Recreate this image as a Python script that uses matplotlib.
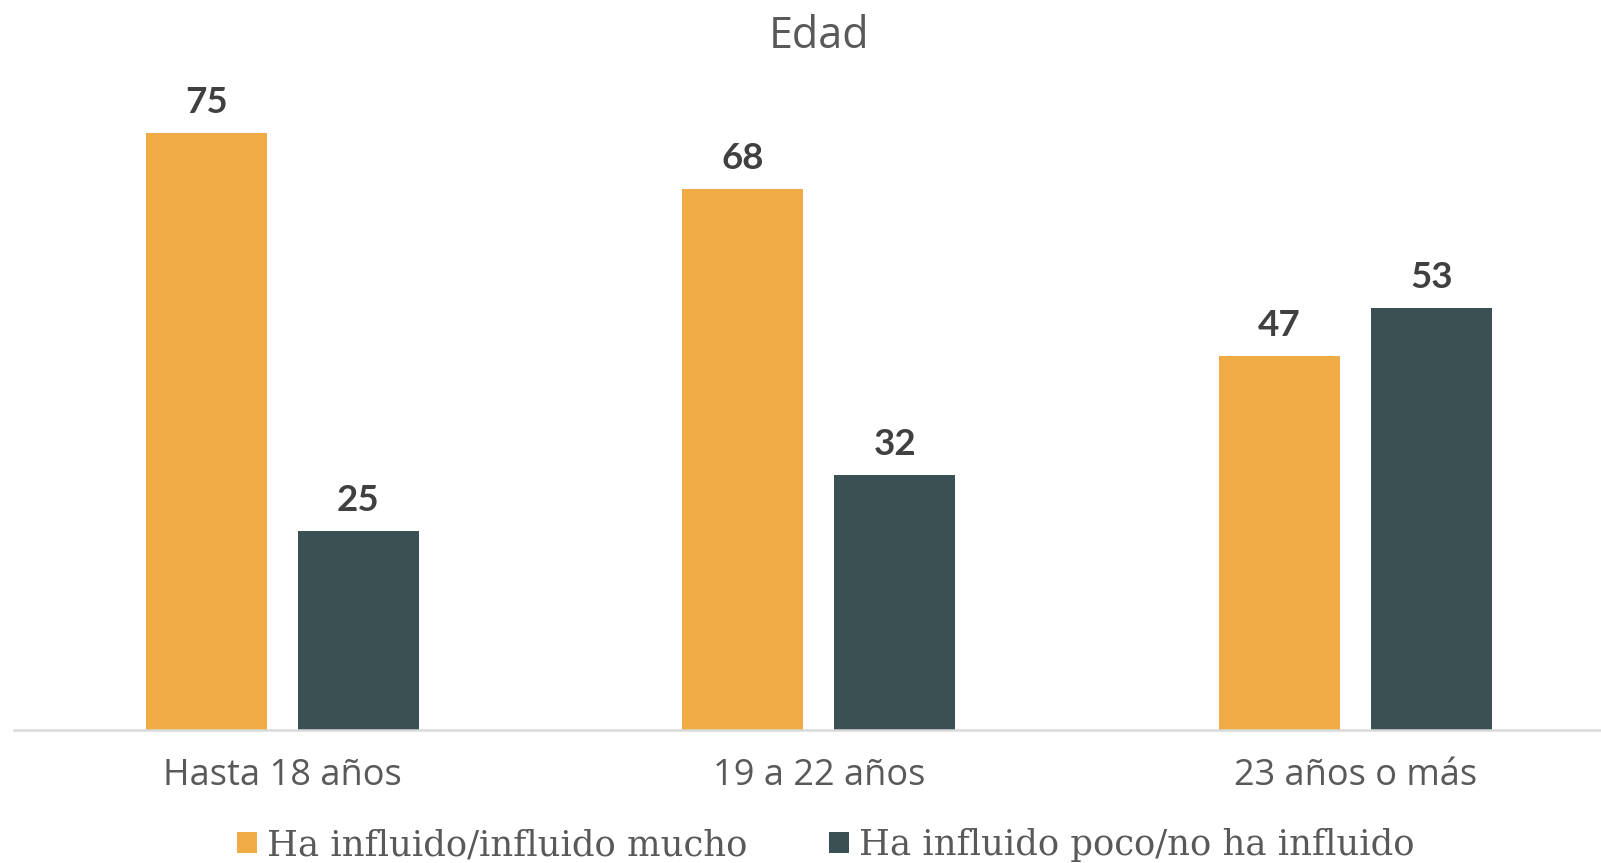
import matplotlib.pyplot as plt
import numpy as np

categories = ["Hasta 18 años", "19 a 22 años", "23 años o más"]
series_names = ["Ha influido/influido mucho", "Ha influido poco/no ha influido"]
mucho = [75, 68, 47]
poco = [25, 32, 53]
colors = ["#EFAC44", "#3A5052"]

fig = plt.figure(figsize=(16.01, 8.63), dpi=100)
# axes placed so the categories land where the original has them
ax = fig.add_axes([14 / 1601, 133 / 863, 1587 / 1601, 637 / 863])

x = np.arange(len(categories))
w = 0.2255
off = 0.1417
b1 = ax.bar(x - off, mucho, w, color=colors[0], label=series_names[0])
b2 = ax.bar(x + off, poco, w, color=colors[1], label=series_names[1])

for bars in (b1, b2):
    for r in bars:
        ax.annotate(f"{r.get_height():.0f}", (r.get_x() + r.get_width() / 2, r.get_height()),
                    xytext=(0, 10), textcoords="offset points", ha="center", va="bottom",
                    fontsize=26.5, fontweight="bold", color="#404040", family="Lato")

ax.set_xlim(-0.5, -0.5 + 1587 / 536.5)
ax.set_ylim(0, 80)
ax.set_yticks([])
for s in ["top", "right", "left"]:
    ax.spines[s].set_visible(False)
ax.spines["bottom"].set_color("#D9D9D9")
ax.spines["bottom"].set_linewidth(1.8)
ax.set_xticks(x)
ax.set_xticklabels(categories, fontsize=26, color="#595959", family="Open Sans")
ax.tick_params(axis="x", length=0, pad=20)

fig.text(819 / 1601, 1 - 37 / 863, "Edad", ha="center", va="center",
         fontsize=31, color="#595959", family="Open Sans")

fig.legend(handles=[b1, b2], loc="center", bbox_to_anchor=(826 / 1601, 1 - 845 / 863),
           ncol=2, frameon=False,
           prop={"family": "DejaVu Serif", "size": 25.5},
           handlelength=0.55, handleheight=0.55, handletextpad=0.3, columnspacing=2.3,
           labelcolor="#595959")

fig.savefig("out.png", dpi=100, facecolor="white")
